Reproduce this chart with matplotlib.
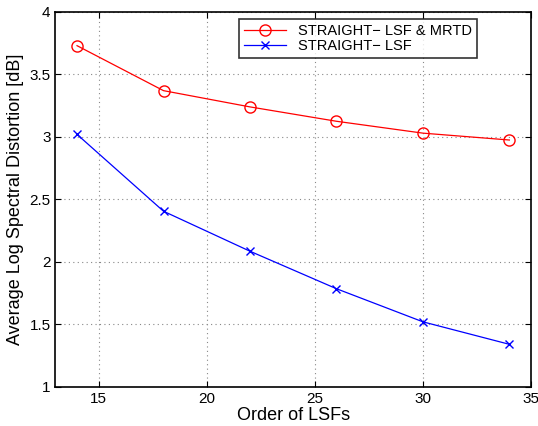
import matplotlib
matplotlib.use("Agg")
import matplotlib.pyplot as plt

plt.rcParams['font.family'] = ['Liberation Sans', 'DejaVu Sans']

orders = [14, 18, 22, 26, 30, 34]
lsf_mrtd = [3.73, 3.37, 3.24, 3.125, 3.03, 2.975]
lsf_only = [3.02, 2.405, 2.085, 1.785, 1.52, 1.34]
xticks = [15, 20, 25, 30, 35]
yticks = [1, 1.5, 2, 2.5, 3, 3.5, 4]
ytick_labels = ['1', '1.5', '2', '2.5', '3', '3.5', '4']

fig = plt.figure(figsize=(5.38, 4.26), dpi=100)
ax = fig.add_axes([0.103, 0.092, 0.884, 0.880])
ax.plot(orders, lsf_mrtd, color='red', marker='o', markersize=8, markerfacecolor='none',
        markeredgecolor='red', linewidth=0.9, label='STRAIGHT\u2212 LSF & MRTD')
ax.plot(orders, lsf_only, color='blue', marker='x', markersize=6, linewidth=0.9,
        label='STRAIGHT\u2212 LSF')
ax.set_xlim(13, 35)
ax.set_ylim(1, 4)
ax.set_xticks(xticks)
ax.set_yticks(yticks)
ax.set_yticklabels(ytick_labels)
ax.grid(True, linestyle=(0, (1, 3)), color='#888888', linewidth=0.8)
ax.tick_params(direction='in', labelsize=11, length=4, top=True, right=True)
for s in ax.spines.values():
    s.set_linewidth(1.2)
ax.set_xlabel('Order of LSFs', fontsize=13, labelpad=1)
ax.set_ylabel('Average Log Spectral Distortion [dB]', fontsize=13, labelpad=4)
leg = ax.legend(loc='upper right', bbox_to_anchor=(0.887, 0.981), fontsize=10.5, frameon=True,
                fancybox=False, edgecolor='black', borderpad=0.35, labelspacing=0.05,
                handlelength=2.9, handletextpad=0.8, borderaxespad=0.0)
leg.get_frame().set_linewidth(1.2)
fig.savefig('out.png', dpi=100)
